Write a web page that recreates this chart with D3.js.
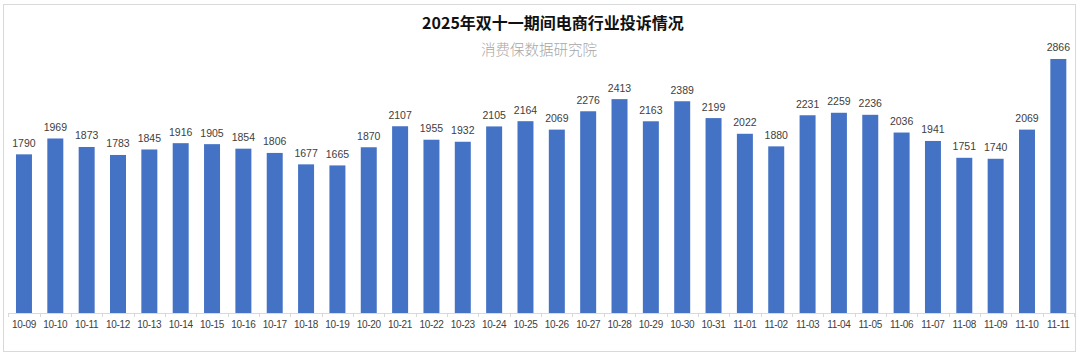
<!DOCTYPE html>
<html><head><meta charset="utf-8">
<script src="https://cdn.jsdelivr.net/npm/d3@7/dist/d3.min.js"></script>
<style>
html,body{margin:0;padding:0;background:#fff;}
svg{display:block;}
</style></head>
<body><svg id="c" width="1080" height="355"></svg>
<script>
const categories = ["10-09","10-10","10-11","10-12","10-13","10-14","10-15","10-16","10-17","10-18","10-19","10-20","10-21","10-22","10-23","10-24","10-25","10-26","10-27","10-28","10-29","10-30","10-31","11-01","11-02","11-03","11-04","11-05","11-06","11-07","11-08","11-09","11-10","11-11"];
const values = [1790,1969,1873,1783,1845,1916,1905,1854,1806,1677,1665,1870,2107,1955,1932,2105,2164,2069,2276,2413,2163,2389,2199,2022,1880,2231,2259,2236,2036,1941,1751,1740,2069,2866];
const title = "2025年双十一期间电商行业投诉情况";
const subtitle = "消费保数据研究院";

const svg = d3.select("#c");
svg.append("rect").attr("x",3.5).attr("y",4.5).attr("width",1072).attr("height",347)
  .attr("fill","#fff").attr("stroke","#d9d9d9").attr("stroke-width",1);

const x = d3.scaleBand().domain(categories).range([8.3,1074]).paddingInner(0.49).paddingOuter(0.245);
const y = d3.scaleLinear().domain([0,3000]).range([313,47.1]);

svg.append("text").attr("x",553).attr("y",29).attr("text-anchor","middle")
  .attr("font-family","'Noto Sans CJK SC',sans-serif").attr("font-weight","bold")
  .attr("font-size",16).attr("fill","#111").text(title);
svg.append("text").attr("x",539).attr("y",54.5).attr("text-anchor","middle")
  .attr("font-family","'Noto Sans CJK SC',sans-serif").attr("font-weight",300)
  .attr("font-size",14.5).attr("fill","#a6a6a6").text(subtitle);

svg.append("g").selectAll("rect").data(values).join("rect")
  .attr("x",(d,i)=>x(categories[i])).attr("width",x.bandwidth())
  .attr("y",d=>y(d)).attr("height",d=>y(0)-y(d)).attr("fill","#4472C4");

svg.append("g").selectAll("text").data(values).join("text")
  .attr("x",(d,i)=>x(categories[i])+x.bandwidth()/2).attr("y",d=>y(d)-7.5)
  .attr("text-anchor","middle").attr("font-family","'Liberation Sans',Arial,sans-serif")
  .attr("font-size",10.5).attr("fill","#404040").text(d=>d);

// axis
const step = x.step();
const ax = svg.append("g");
ax.append("line").attr("x1",8.3).attr("x2",1074).attr("y1",313.5).attr("y2",313.5).attr("stroke","#d9d9d9");
const bounds = d3.range(categories.length+1).map(i=>8.3+i*step);
ax.selectAll("line.t").data(bounds).join("line").attr("class","t")
  .attr("x1",d=>Math.round(d)+0.5).attr("x2",d=>Math.round(d)+0.5).attr("y1",313).attr("y2",317).attr("stroke","#d9d9d9");
ax.selectAll("text").data(categories).join("text")
  .attr("x",d=>x(d)+x.bandwidth()/2).attr("y",328).attr("text-anchor","middle")
  .attr("font-family","'Liberation Sans',Arial,sans-serif").attr("font-size",10)
  .attr("letter-spacing","-0.3").attr("fill","#404040").text(d=>d);
</script></body></html>
